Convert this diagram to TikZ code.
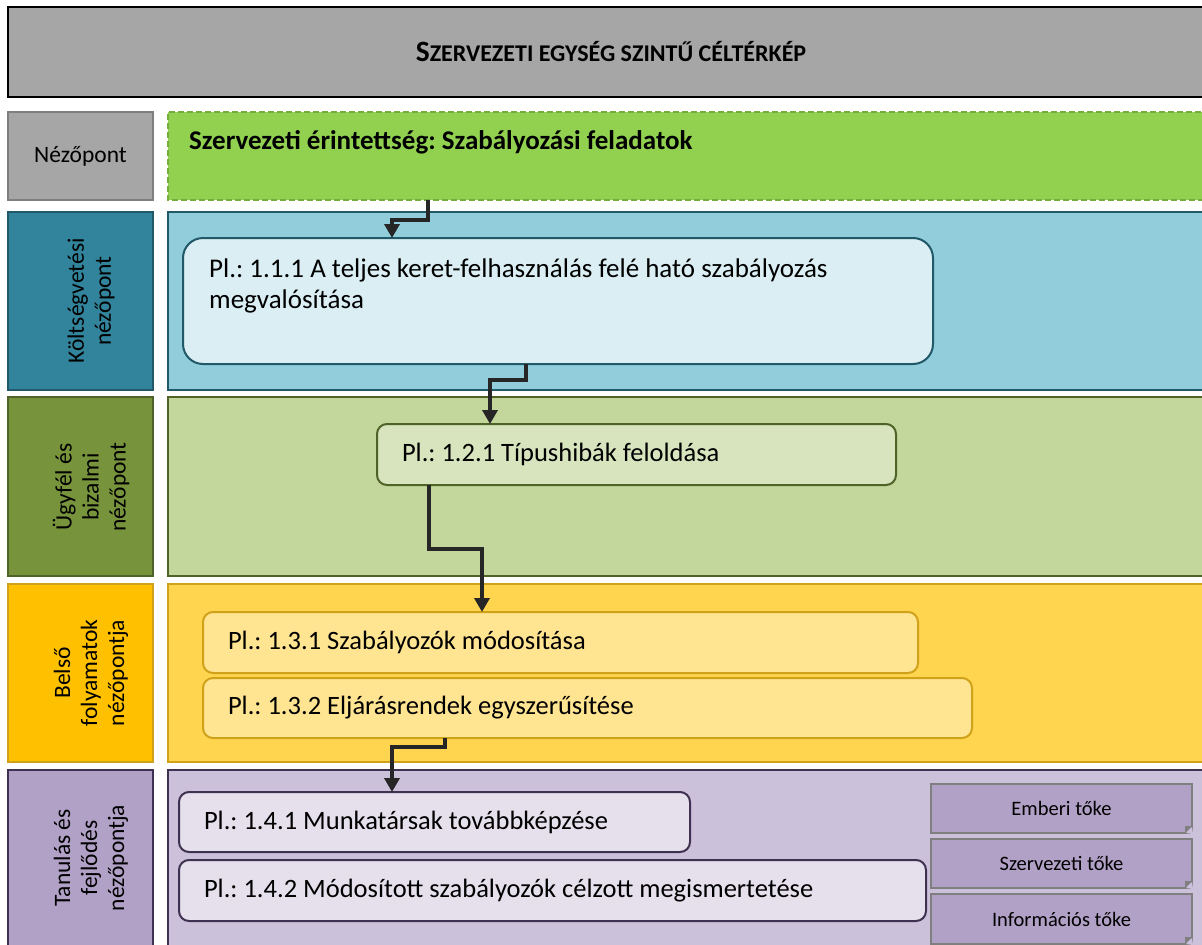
\documentclass[tikz,border=0pt]{standalone}
\usepackage{fontspec}
\setmainfont{Carlito}
\usetikzlibrary{arrows.meta,calc}
\definecolor{titlegray}{HTML}{A6A6A6}
\definecolor{labgrayb}{HTML}{7F7F7F}
\definecolor{grfill}{HTML}{92D050}
\definecolor{grdash}{HTML}{74AC3E}
\definecolor{tlab}{HTML}{31849B}
\definecolor{tdark}{HTML}{215968}
\definecolor{tpanel}{HTML}{92CDDC}
\definecolor{tbox}{HTML}{DAEEF3}
\definecolor{olab}{HTML}{77933C}
\definecolor{odark}{HTML}{4F6228}
\definecolor{opanel}{HTML}{C3D69B}
\definecolor{obox}{HTML}{D7E4BD}
\definecolor{ylab}{HTML}{FFC000}
\definecolor{ydark}{HTML}{CFA21A}
\definecolor{ypanel}{HTML}{FFD44F}
\definecolor{ybox}{HTML}{FFE491}
\definecolor{plab}{HTML}{B2A1C7}
\definecolor{pdark}{HTML}{3F3151}
\definecolor{ppanel}{HTML}{CCC1DA}
\definecolor{pbox}{HTML}{E5E0EC}
\definecolor{arrcol}{HTML}{262626}
\frenchspacing
\tikzset{
  blk/.style={draw, line width=2pt, anchor=north west, inner sep=0pt, outer sep=0pt},
  panel/.style={anchor=north west, inner sep=0pt, outer sep=0pt, minimum width=1060pt},
  edge3/.style={line width=2pt},
  labtext/.style={rotate=90, align=center, font=\fontsize{23.5}{27}\selectfont, text=black},
  goalbox/.style={blk, rounded corners=10pt, align=flush left, inner xsep=25pt, font=\fontsize{26.5}{31}\selectfont},
  capbox/.style={blk, fill=plab, draw=labgrayb, line width=1.8pt, font=\fontsize{20.5}{24}\selectfont},
  arr/.style={draw=arrcol, line width=3.5pt, -{Triangle[length=14pt,width=15pt]}}
}
\begin{document}
\begin{tikzpicture}[x=1pt,y=-1pt]
\useasboundingbox (0,0) rectangle (1202,945);
\clip (0,0) rectangle (1202,945);
% title
\node[panel, fill=titlegray, minimum width=1206pt, minimum height=90pt] (title) at (8,7)
  {\bfseries\fontsize{29.5}{29.5}\selectfont S\fontsize{24}{29.5}\selectfont ZERVEZETI EGYSÉG SZINTŰ CÉLTÉRKÉP};
\draw[edge3, black] (title.north east) -- (title.north west) -- (title.south west) -- (title.south east);
% row 0
\node[blk, fill=titlegray, draw=labgrayb, minimum width=145pt, minimum height=88pt,
  font=\fontsize{23.5}{28}\selectfont] (l0) at (8,112) {Nézőpont};
\node[panel, fill=grfill, minimum height=88pt] (green) at (168,112) {};
\draw[edge3, grdash, dash pattern=on 6pt off 3pt] (green.north east) -- (green.north west) -- (green.south west) -- (green.south east);
\node[anchor=base west, inner sep=0pt, font=\bfseries\fontsize{27}{30}\selectfont] (gtext) at (189,149)
  {Szervezeti érintettség: Szabályozási feladatok};
% row 1
\node[blk, fill=tlab, draw=tdark, minimum width=145pt, minimum height=178pt] (l1) at (8,212) {};
\node[labtext] (l1t) at (91,301) {Költségvetési\\nézőpont};
\node[panel, fill=tpanel, minimum height=178pt] (p1) at (168,212) {};
\draw[edge3, tdark] (p1.north east) -- (p1.north west) -- (p1.south west) -- (p1.south east);
\node[blk, fill=tbox, draw=tdark, rounded corners=20pt, minimum width=750pt, minimum height=126pt] (b111) at (183,238) {};
\node[anchor=north west, inner sep=0pt, align=flush left, font=\fontsize{27}{31}\selectfont] (t111) at (209,259)
  {Pl.: 1.1.1 A teljes keret-felhasználás felé ható szabályozás\\megvalósítása};
% row 2
\node[blk, fill=olab, draw=odark, minimum width=145pt, minimum height=179pt] (l2) at (8,397) {};
\node[labtext] (l2t) at (91,487) {Ügyfél és\\bizalmi\\nézőpont};
\node[panel, fill=opanel, minimum height=179pt] (p2) at (168,397) {};
\draw[edge3, odark] (p2.north east) -- (p2.north west) -- (p2.south west) -- (p2.south east);
\node[goalbox, fill=obox, draw=odark, text width=469pt, minimum height=61pt] (b121) at (377,424)
  {Pl.: 1.2.1 Típushibák feloldása};
% row 3
\node[blk, fill=ylab, draw=ydark, minimum width=145pt, minimum height=178pt] (l3) at (8,584) {};
\node[labtext] (l3t) at (91,673) {Belső\\folyamatok\\nézőpontja};
\node[panel, fill=ypanel, minimum height=178pt] (p3) at (168,584) {};
\draw[edge3, ydark] (p3.north east) -- (p3.north west) -- (p3.south west) -- (p3.south east);
\node[goalbox, fill=ybox, draw=ydark, text width=665pt, minimum height=61pt] (b131) at (203,612)
  {Pl.: 1.3.1 Szabályozók módosítása};
\node[goalbox, fill=ybox, draw=ydark, text width=719pt, minimum height=60pt] (b132) at (203,678)
  {Pl.: 1.3.2 Eljárásrendek egyszerűsítése};
% row 4
\node[blk, fill=plab, draw=pdark, minimum width=145pt, minimum height=190pt] (l4) at (8,770) {};
\node[labtext] (l4t) at (91,858) {Tanulás és\\fejlődés\\nézőpontja};
\node[panel, fill=ppanel, minimum height=190pt] (p4) at (168,770) {};
\draw[edge3, pdark] (p4.north east) -- (p4.north west) -- (p4.south west) -- (p4.south east);
\node[goalbox, fill=pbox, draw=pdark, text width=461pt, minimum height=60pt] (b141) at (179,792)
  {Pl.: 1.4.1 Munkatársak továbbképzése};
\node[goalbox, fill=pbox, draw=pdark, text width=697pt, minimum height=61pt] (b142) at (179,860)
  {Pl.: 1.4.2 Módosított szabályozók célzott megismertetése};
\node[capbox, minimum width=261pt, minimum height=49pt] (c1) at (931,784) {Emberi tőke};
\node[capbox, minimum width=261pt, minimum height=49pt] (c2) at (931,839) {Szervezeti tőke};
\node[capbox, minimum width=261pt, minimum height=50pt] (c3) at (931,894) {Információs tőke};
\foreach \c in {c1,c2,c3}{
  \fill[ppanel] ([xshift=-6pt]\c.south east) -- ([xshift=1pt,yshift=-1pt]\c.south east) -- ([yshift=6pt]\c.south east) -- cycle;
  \fill[labgrayb] ([xshift=-7pt]\c.south east) -- ([xshift=-7pt,yshift=7pt]\c.south east) -- ([yshift=7pt]\c.south east) -- cycle;
}
% arrows
\coordinate (x1s) at (428,0); \coordinate (x1e) at (392,0);
\coordinate (x2s) at (526,0); \coordinate (x2e) at (490,0);
\coordinate (x3s) at (429,0); \coordinate (x3e) at (482,0);
\coordinate (x4s) at (445,0); \coordinate (x4e) at (392,0);
\draw[arr] (green.south -| x1s) -- ++(0,20) -| (b111.north -| x1e);
\draw[arr] (b111.south -| x2s) -- ++(0,16) -| (b121.north -| x2e);
\draw[arr] (b121.south -| x3s) -- ++(0,64) -| (b131.north -| x3e);
\draw[arr] (b132.south -| x4s) -- ++(0,9) -| (b141.north -| x4e);
\end{tikzpicture}
\end{document}
